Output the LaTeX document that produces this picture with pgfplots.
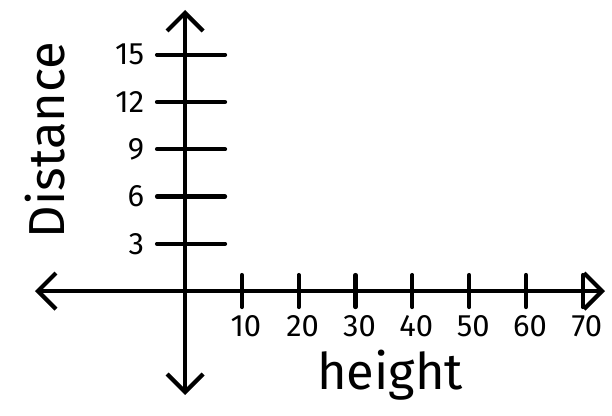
\documentclass[border=0pt]{standalone}
\usepackage{fontspec}
\setmainfont{Fira Sans}
\usepackage{pgfplots}
\pgfplotsset{compat=1.18}
\usetikzlibrary{arrows.meta}

\pgfplotsset{
  sketch/.style={
    scale only axis,
    width=14.25cm, height=9.625cm,
    at={(0.875cm,0.525cm)}, anchor=south west,
    xmin=-26.4, xmax=73.9,
    ymin=-6.6, ymax=17.84,
    axis line style={black, line width=3pt, line cap=round},
    every tick/.style={black, line width=3pt, line cap=round},
    tick align=center,
    /pgf/number format/assume math mode=true,
    tick label style={font=\fontsize{22}{24}\selectfont},
  },
}

\begin{document}
\begin{tikzpicture}[>={Straight Barb[length=4.5mm,width=9mm]}]
\path[use as bounding box] (0,0) rectangle (15.3,10.4);

% horizontal axis: height
\begin{axis}[sketch,
    axis x line=middle, axis y line=none,
    every inner x axis line/.append style={<->},
    xtick={10,20,30,40,50,60,70}, ytick=\empty,
    major tick length=0.8cm,
    xticklabel style={anchor=north, xshift=0.1cm, yshift=-0.1cm},
    xlabel={height},
    every axis x label/.style={at={(rel axis cs:0.623,0.052)}, anchor=center,
        font=\fontsize{36}{40}\selectfont},
]
\end{axis}

% vertical axis: Distance
\begin{axis}[sketch,
    axis x line=none, axis y line=middle,
    every inner y axis line/.append style={<->},
    ytick={3,6,9,12,15}, xtick=\empty,
    major tick length=1.7cm,
    ytick style={xshift=0.15cm},
    yticklabel style={anchor=east, xshift=-0.05cm},
    ylabel={Distance},
    every axis y label/.style={at={(rel axis cs:0.0175,0.662)}, anchor=center,
        rotate=90, font=\fontsize{36}{40}\selectfont},
]
\end{axis}
\end{tikzpicture}
\end{document}
